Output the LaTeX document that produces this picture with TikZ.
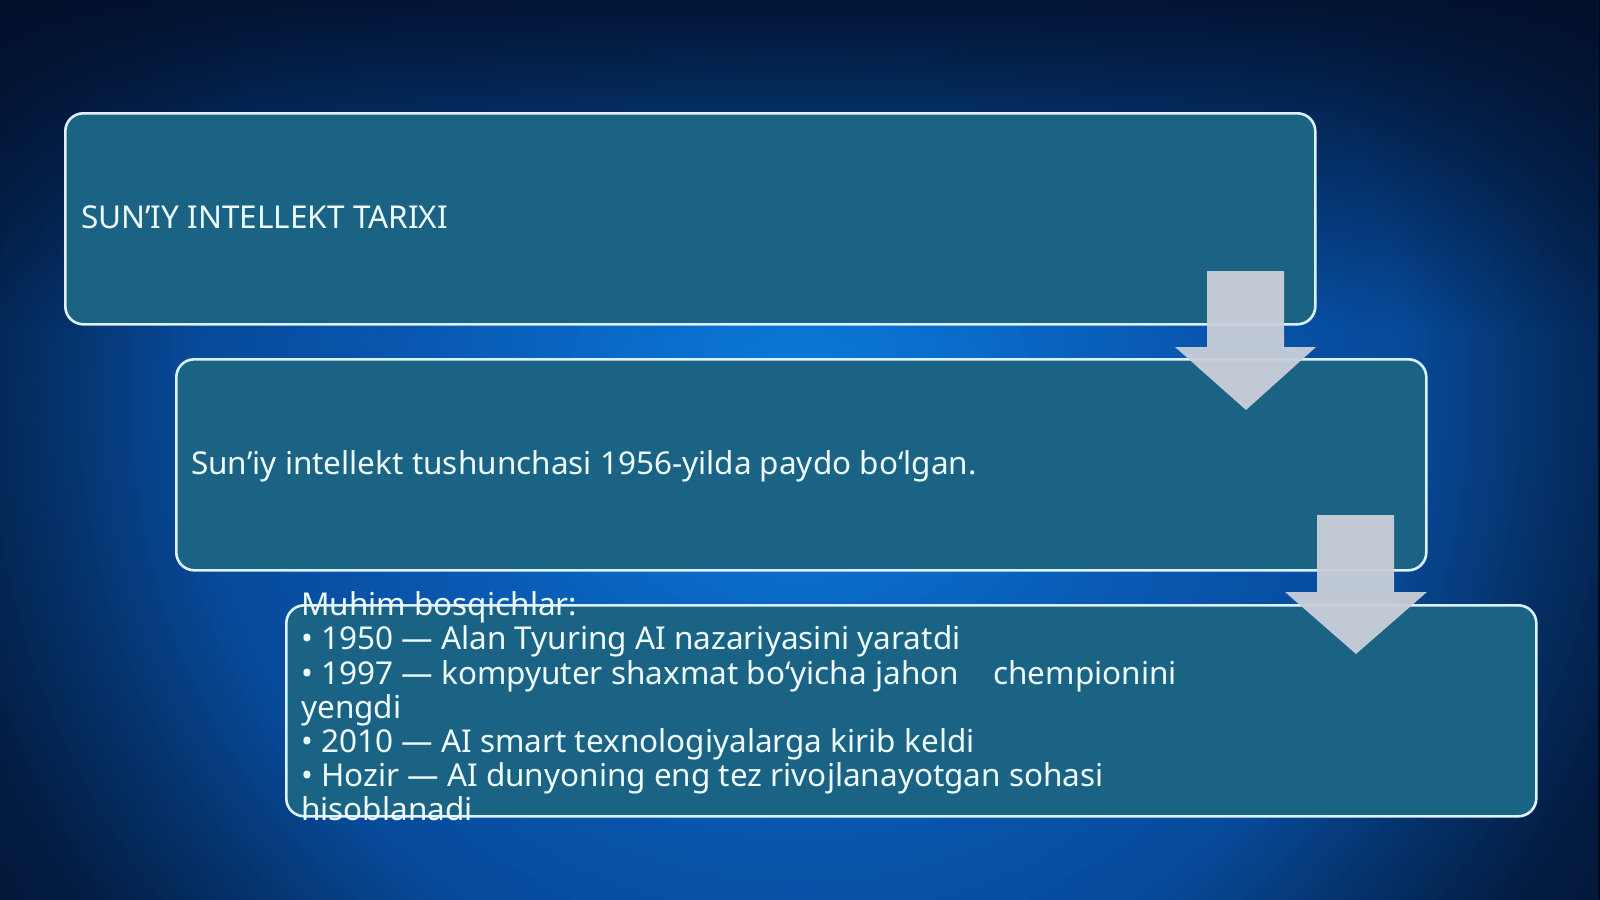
\documentclass[tikz,border=0pt]{standalone}
\usepackage{fontspec}
\setmainfont{Noto Sans}
\usetikzlibrary{fadings}
\definecolor{bgA}{HTML}{0B7BDA}
\definecolor{bgB}{HTML}{0A6DCB}
\definecolor{bgC}{HTML}{0957B0}
\definecolor{bgD}{HTML}{074A9A}
\definecolor{bgE}{HTML}{05336C}
\definecolor{bgF}{HTML}{031C42}
\definecolor{bgG}{HTML}{020E26}
\definecolor{topdark}{HTML}{020F2A}
\definecolor{panelfill}{HTML}{1A6384}
\definecolor{panelline}{HTML}{DDF2FF}
\definecolor{txt}{HTML}{EEFBFF}
\definecolor{arrowfill}{HTML}{C9CFD9}
\tikzfading[name=topfade, top color=transparent!8, bottom color=transparent!100]
% concentric bands: outer radius, outer colour, inner radius, inner colour
\newcommand\glowband[4]{%
  \foreach \k in {0,...,19}{%
    \pgfmathsetmacro\rr{#1-(#1-#3)*\k/20}%
    \pgfmathtruncatemacro\pp{100-5*\k}%
    \fill[#2!\pp!#4] (800,400) circle[radius=\rr];
  }}
\begin{document}
\begin{tikzpicture}[x=1pt,y=-1pt,
  panel/.style={draw=panelline, line width=2.6pt, fill=panelfill, rounded corners=18pt,
    inner sep=0pt, minimum width=1250pt, minimum height=211pt, anchor=north west},
  label/.style={text=txt, font=\fontsize{31.5}{34.2}\selectfont, inner sep=0pt, anchor=base west},
  flowarrow/.style={fill=arrowfill, fill opacity=0.95}]
\useasboundingbox (0,0) rectangle (1600,899);
% background
\begin{scope}
  \clip (0,0) rectangle (1600,899);
  \fill[bgG] (0,0) rectangle (1600,899);
  \glowband{1150}{bgG}{880}{bgF}
  \glowband{880}{bgF}{740}{bgE}
  \glowband{740}{bgE}{610}{bgD}
  \glowband{610}{bgD}{400}{bgC}
  \glowband{400}{bgC}{160}{bgB}
  \glowband{160}{bgB}{0}{bgA}
\end{scope}
\fill[topdark, path fading=topfade] (0,0) rectangle (1600,330);
\fill[bgG!80!black] (1597.5,0) rectangle (1600,899);
% panels
\node[panel] (b1) at (64,112) {};
\node[panel] (b2) at (175,358) {};
\node[panel] (b3) at (285,604) {};
% arrows
\fill[flowarrow] (1207,271) -- (1284,271) -- (1284,347) -- (1316,347) -- (1246,410) -- (1175,347) -- (1207,347) -- cycle;
\fill[flowarrow] (1317,515) -- (1394,515) -- (1394,592) -- (1427,592) -- (1356,654) -- (1285,592) -- (1317,592) -- cycle;
% texts
\node[label] (t1) at (81,228) {SUN’IY INTELLEKT TARIXI};
\node[label] (t2) at (191,474) {Sun’iy intellekt tushunchasi 1956-yilda paydo bo‘lgan.};
\node[label] (l1) at (301,615.7) {Muhim bosqichlar:};
\node[label] (l2) at (301,649.9) {• 1950 — Alan Tyuring AI nazariyasini yaratdi};
\node[label] (l3) at (301,684.1) {• 1997 — kompyuter shaxmat bo‘yicha jahon \hspace{26pt}chempionini};
\node[label] (l4) at (301,718.3) {yengdi};
\node[label] (l5) at (301,752.5) {• 2010 — AI smart texnologiyalarga kirib keldi};
\node[label] (l6) at (301,786.7) {• Hozir — AI dunyoning eng tez rivojlanayotgan sohasi};
\node[label] (l7) at (301,820.9) {hisoblanadi};
\end{tikzpicture}
\end{document}
